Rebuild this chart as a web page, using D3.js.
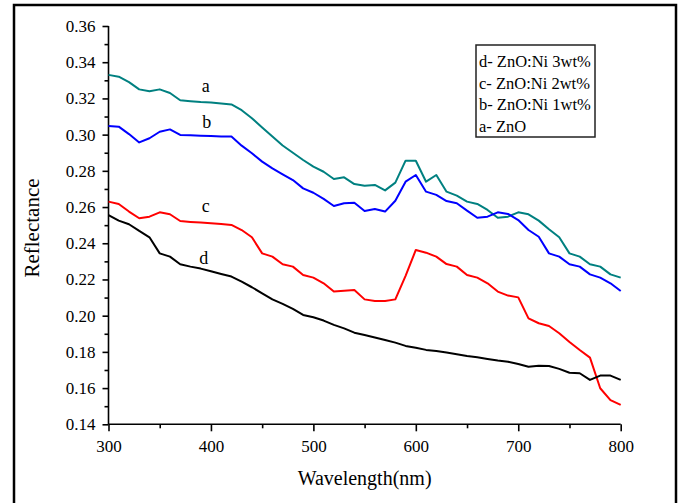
<!DOCTYPE html>
<html>
<head>
<meta charset="utf-8">
<script src="https://cdn.jsdelivr.net/npm/d3@7"></script>
<style>
  body { margin: 0; background: #fff; }
  svg { display: block; font-family: "Liberation Serif", "Times New Roman", serif; }
</style>
</head>
<body>
<div id="chart"></div>
<script>
// wavelength (nm), every 10 nm
const wavelength = d3.range(300, 801, 10);

// a- ZnO
const refA = [0.333, 0.332, 0.329, 0.325, 0.324, 0.325, 0.323, 0.319, 0.3185, 0.318, 0.3177, 0.3172, 0.3167,
  0.3135, 0.309, 0.304, 0.299, 0.294, 0.290, 0.286, 0.2823, 0.2795, 0.2755, 0.2764, 0.2727, 0.2718, 0.2722,
  0.2692, 0.2735, 0.2856, 0.2856, 0.274, 0.2777, 0.2685, 0.2663, 0.263, 0.2617, 0.2584, 0.2541, 0.2547,
  0.2571, 0.256, 0.2525, 0.2477, 0.2433, 0.2344, 0.2326, 0.2284, 0.2271, 0.2228, 0.221];
// b- ZnO:Ni 1wt%
const refB = [0.3048, 0.3044, 0.3003, 0.2957, 0.298, 0.3016, 0.3029, 0.2998, 0.2996, 0.2994, 0.2992, 0.2990, 0.2989,
  0.2939, 0.2897, 0.2851, 0.2814, 0.2781, 0.2749, 0.2703, 0.2679, 0.2645, 0.2606, 0.2621, 0.2624, 0.2578, 0.2589,
  0.2575, 0.2635, 0.274, 0.2777, 0.2685, 0.2667, 0.2633, 0.2621, 0.258, 0.2541, 0.2547, 0.2571, 0.2562,
  0.2528, 0.2473, 0.2436, 0.2344, 0.2326, 0.2284, 0.2271, 0.2228, 0.221, 0.2179, 0.2136];
// c- ZnO:Ni 2wt%
const refC = [0.263, 0.2617, 0.2575, 0.2538, 0.2547, 0.2571, 0.256, 0.2523, 0.2518, 0.2514, 0.2510, 0.2506, 0.2501,
  0.2473, 0.2433, 0.2344, 0.2326, 0.2284, 0.2271, 0.2225, 0.221, 0.2179, 0.2133, 0.2138, 0.2142, 0.209, 0.2081,
  0.2081, 0.209, 0.222, 0.2363, 0.2348, 0.2326, 0.2285, 0.2271, 0.2225, 0.221, 0.2179, 0.2133, 0.2111,
  0.2101, 0.1985, 0.1958, 0.1943, 0.1903, 0.1855, 0.181, 0.1768, 0.1599, 0.1534, 0.1507];
// d- ZnO:Ni 3wt%
const refD = [0.2556, 0.2525, 0.2505, 0.2468, 0.2433, 0.2344, 0.2326, 0.2284, 0.2271, 0.226, 0.2245, 0.223, 0.2216,
  0.2188, 0.2157, 0.2123, 0.209, 0.2065, 0.2037, 0.2004, 0.1991, 0.1973, 0.1949, 0.193, 0.1906, 0.1893, 0.1879,
  0.1866, 0.1851, 0.1833, 0.1823, 0.1811, 0.1805, 0.1796, 0.1787, 0.1777, 0.177, 0.1761, 0.1752, 0.1746,
  0.1733, 0.1718, 0.1724, 0.1722, 0.1706, 0.1685, 0.1682, 0.1645, 0.1669, 0.1669, 0.1645];

const seriesNames = ["a", "b", "c", "d"];
const seriesColors = ["#008080", "#0000ff", "#ff0000", "#000000"];
const legendLabels = ["d- ZnO:Ni 3wt%", "c- ZnO:Ni 2wt%", "b- ZnO:Ni 1wt%", "a- ZnO"];
// curve label anchors [wavelength, reflectance]
const curveLabelPos = [[395, 0.3236], [396, 0.3034], [395, 0.2573], [393, 0.2288]];

const xTicks = [300, 400, 500, 600, 700, 800];
const yTicks = [0.14, 0.16, 0.18, 0.20, 0.22, 0.24, 0.26, 0.28, 0.30, 0.32, 0.34, 0.36];

const W = 681, H = 503;
const svg = d3.select("#chart").append("svg")
  .attr("width", W).attr("height", H);

svg.append("rect").attr("width", W).attr("height", H).attr("fill", "#fff");

// outer frame (bottom runs off the page)
svg.append("rect")
  .attr("x", 14).attr("y", 5)
  .attr("width", 662).attr("height", 520)
  .attr("fill", "none").attr("stroke", "#000").attr("stroke-width", 2.5);

const x = d3.scaleLinear().domain([300, 800]).range([108.5, 620.7]);
const y = d3.scaleLinear().domain([0.14, 0.36]).range([424.3, 26]);

// minor ticks
const xMinor = d3.range(350, 800, 100);
const yMinor = d3.range(0.15, 0.36, 0.02);

const xAxis = svg.append("g")
  .attr("transform", "translate(0,424.3)")
  .call(d3.axisBottom(x).tickValues(xTicks).tickSize(7).tickPadding(9).tickFormat(d3.format("d")));
svg.append("g")
  .attr("transform", "translate(0,424.3)")
  .call(d3.axisBottom(x).tickValues(xMinor).tickSize(4).tickFormat(""))
  .call(g => g.select(".domain").remove());

const yAxis = svg.append("g")
  .attr("transform", "translate(108.5,0)")
  .call(d3.axisLeft(y).tickValues(yTicks).tickSize(6).tickPadding(7).tickFormat(d3.format(".2f")));
svg.append("g")
  .attr("transform", "translate(108.5,0)")
  .call(d3.axisLeft(y).tickValues(yMinor).tickSize(4).tickFormat(""))
  .call(g => g.select(".domain").remove());

svg.selectAll(".domain").attr("stroke", "#000").attr("stroke-width", 1.6);
svg.selectAll(".tick line").attr("stroke", "#000").attr("stroke-width", 1.6);
svg.selectAll(".tick text")
  .attr("font-family", "Liberation Serif, Times New Roman, serif")
  .attr("font-size", 17).attr("fill", "#000");
xAxis.selectAll(".domain").attr("d", "M108.5,0H620.7");
yAxis.selectAll(".domain").attr("d", "M0,424.3V26");

// curves
const allSeries = [refA, refB, refC, refD];
const line = d3.line()
  .x((d, i) => x(wavelength[i]))
  .y(d => y(d));

svg.append("g").selectAll("path")
  .data(allSeries)
  .join("path")
  .attr("d", line)
  .attr("fill", "none")
  .attr("stroke", (d, i) => seriesColors[i])
  .attr("stroke-width", 2)
  .attr("stroke-linejoin", "round");

// curve letters
svg.append("g").selectAll("text")
  .data(curveLabelPos)
  .join("text")
  .attr("x", d => x(d[0]))
  .attr("y", d => y(d[1]))
  .attr("text-anchor", "middle")
  .attr("font-size", 18)
  .text((d, i) => seriesNames[i]);

// legend box
const legend = svg.append("g").attr("transform", "translate(476,45)");
legend.append("rect")
  .attr("width", 119).attr("height", 92)
  .attr("fill", "#fff").attr("stroke", "#222").attr("stroke-width", 1.5);
legend.selectAll("text")
  .data(legendLabels)
  .join("text")
  .attr("x", 3)
  .attr("y", (d, i) => 22 + i * 21.7)
  .attr("font-size", 16.5)
  .text(d => d);

// axis titles
svg.append("text")
  .attr("x", x(550)).attr("y", 485)
  .attr("text-anchor", "middle")
  .attr("font-size", 20)
  .text("Wavelength(nm)");

svg.append("text")
  .attr("transform", "translate(39,228) rotate(-90)")
  .attr("text-anchor", "middle")
  .attr("font-size", 21)
  .text("Reflectance");
</script>
</body>
</html>
